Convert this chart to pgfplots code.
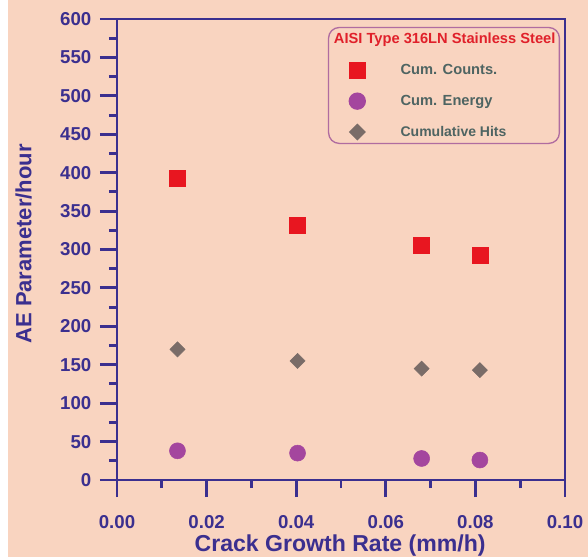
\documentclass[border=0pt]{standalone}
\usepackage{pgfplots}
\pgfplotsset{compat=1.18}
\usepackage{fontspec}
\setmainfont{Liberation Sans}
\usetikzlibrary{backgrounds}

\definecolor{peach}{RGB}{249,212,192}
\definecolor{axisblue}{RGB}{59,47,143}
\definecolor{sqred}{RGB}{232,22,32}
\definecolor{circpurple}{RGB}{164,70,158}
\definecolor{diagrey}{RGB}{122,108,104}
\definecolor{legborder}{RGB}{176,108,160}
\definecolor{legtext}{RGB}{78,100,98}
\definecolor{titlered}{RGB}{224,32,42}

\begin{document}
\begin{tikzpicture}
\begin{axis}[
    scale only axis,
    width=336pt, height=345.75pt,
    xmin=0, xmax=0.1, ymin=0, ymax=600,
    xtick={0,0.02,...,0.1},
    ytick={0,50,...,600},
    minor tick num=1,
    xtick pos=bottom, ytick pos=left,
    tick align=outside,
    major tick length=12.75pt, minor tick length=6pt,
    axis line style={axisblue, line width=2.2pt},
    every tick/.style={axisblue, line width=2.2pt},
    xticklabel style={/pgf/number format/.cd, fixed, fixed zerofill, precision=2, /tikz/.cd},
    /pgf/number format/assume math mode=true,
    ticklabel style={font=\fontsize{14}{16}\selectfont\bfseries, text=axisblue},
    xticklabel shift=10pt,
    yticklabel shift=3pt,
    scaled x ticks=false,
    xlabel={Crack Growth Rate (mm/h)},
    ylabel={AE Parameter/hour},
    every axis x label/.style={at={(rel axis cs:0.498,-0.143)}, anchor=center, text=axisblue, font=\fontsize{17.3}{20}\selectfont\bfseries},
    every axis y label/.style={at={(rel axis cs:-0.2087,0.512)}, anchor=center, rotate=90, text=axisblue, font=\fontsize{16.5}{19}\selectfont\bfseries},
    legend style={at={(rel axis cs:0.989,0.983)}, anchor=north east,
        draw=legborder, line width=1pt, rounded corners=8pt, fill=none,
        font=\fontsize{11}{13}\selectfont\bfseries, text=legtext,
        row sep=10pt, column sep=24.5pt, inner xsep=13pt, inner ysep=2pt},
    legend cell align=left,
]
\addlegendimage{empty legend}
\addlegendentry{\hspace*{-50pt}\textcolor{titlered}{AISI Type 316LN Stainless Steel}\hspace*{-12pt}}

\addplot[only marks, mark=square*, mark size=6pt, color=sqred] coordinates {
    (0.0135, 393) (0.0403, 332) (0.0680, 306) (0.0810, 293)
};
\addlegendentry{Cum. Counts.}

\addplot[only marks, mark=*, mark size=6pt, color=circpurple] coordinates {
    (0.0135, 38) (0.0403, 35) (0.0680, 28) (0.0810, 26)
};
\addlegendentry{Cum. Energy}

\addplot[only marks, mark=square*, mark size=4pt, mark options={rotate=45}, color=diagrey] coordinates {
    (0.0135, 170) (0.0403, 155) (0.0680, 145) (0.0810, 143)
};
\addlegendentry{\fontsize{10.5}{12}\selectfont Cumulative Hits}
\end{axis}
\pgfresetboundingbox
\begin{scope}[on background layer]
\fill[white] ([xshift=-87.75pt,yshift=-57.75pt]current axis.south west) rectangle ([xshift=17.25pt,yshift=14.25pt]current axis.north east);
\fill[peach] ([xshift=-81.75pt,yshift=-57.75pt]current axis.south west) rectangle ([xshift=17.25pt,yshift=14.25pt]current axis.north east);
\end{scope}
\end{tikzpicture}
\end{document}
